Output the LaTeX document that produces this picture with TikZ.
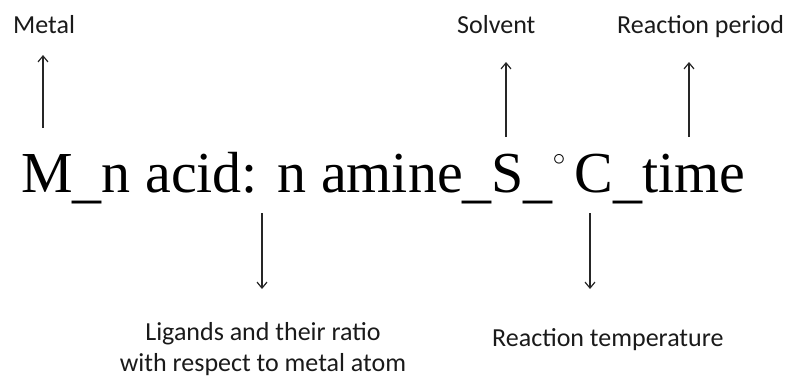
\documentclass[tikz,border=0pt]{standalone}
\usepackage{fontspec}
\setmainfont{Liberation Serif}
\newfontfamily\labelfont{Carlito}
\usetikzlibrary{arrows.meta,positioning}
\definecolor{pointerInk}{HTML}{262626}
\definecolor{labelInk}{HTML}{1A1A1A}
\newcommand{\degmark}{\raisebox{26.5pt}{\fontsize{28}{28}\selectfont$\circ$}\hspace{9pt}}
\newcommand{\lowbar}{\raisebox{-4pt}{\_}}
\tikzset{
  formula/.style={
    inner sep=0pt,
    font=\fontsize{58}{70}\selectfont,
    text=black
  },
  partlabel/.style={
    inner sep=0pt,
    align=center,
    text=labelInk,
    font=\labelfont\fontsize{26}{31}\selectfont
  },
  pointer/.style={
    -{Straight Barb[length=6pt,width=10pt]},
    line width=1.2pt,
    draw=pointerInk
  }
}

\begin{document}
\begin{tikzpicture}[x=1pt,y=-1pt]
  \useasboundingbox (0,0) rectangle (791,378);
  \node[formula,anchor=base west] (code) at (21,192) {M\lowbar n acid:\ \hspace{5pt}n amine\lowbar S\lowbar\degmark C\lowbar time};
  % labels above
  \node[partlabel,anchor=base west] (metal) at (13,33) {Metal};
  \node[partlabel,anchor=base west] (solvent) at (457,33) {Solvent};
  \node[partlabel,anchor=base west] (period) at (617,33) {Reaction period};
  % labels below
  \node[partlabel,anchor=north] (ligands) at (263,322) {Ligands and their ratio\\with respect to metal atom};
  \node[partlabel,anchor=base west] (temperature) at (492,346) {Reaction temperature};
  % arrow feet
  \coordinate (metalFoot) at (43,128);
  \coordinate (solventFoot) at (506,137);
  \coordinate (periodFoot) at (689,137);
  \coordinate (ligandsFoot) at (262,213);
  \coordinate (temperatureFoot) at (590,213);
  \draw[pointer,shorten >=22pt] (metalFoot) -- (metalFoot |- metal.base);
  \draw[pointer,shorten >=29pt] (solventFoot) -- (solventFoot |- solvent.base);
  \draw[pointer,shorten >=29pt] (periodFoot) -- (periodFoot |- period.base);
  \draw[pointer,shorten >=33pt] (ligandsFoot) -- (ligandsFoot |- ligands.north);
  \draw[pointer,shorten >=57pt] (temperatureFoot) -- (temperatureFoot |- temperature.base);
\end{tikzpicture}
\end{document}
